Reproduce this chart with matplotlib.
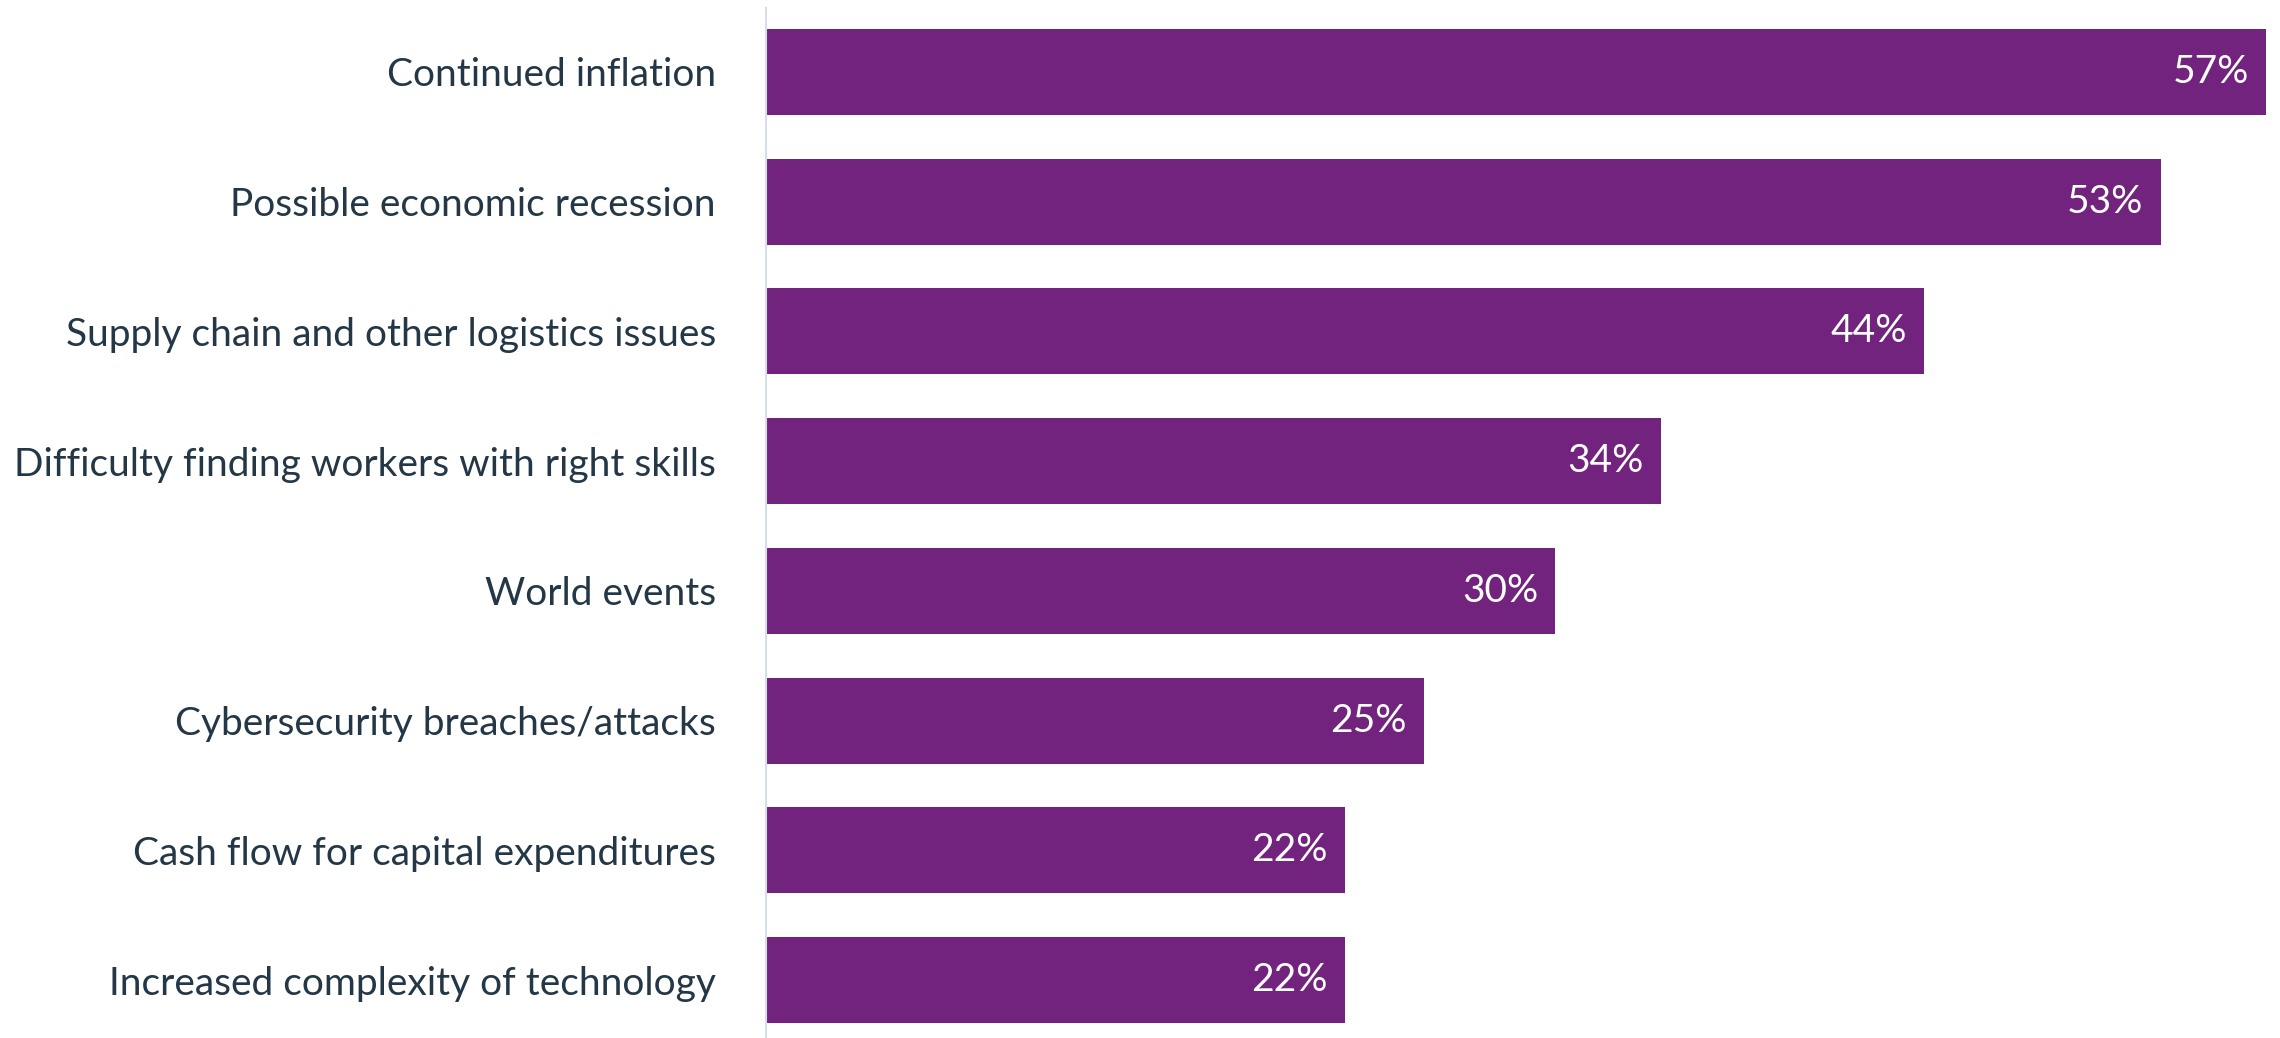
import matplotlib
matplotlib.use("Agg")
import matplotlib.pyplot as plt

categories = [
    "Continued inflation",
    "Possible economic recession",
    "Supply chain and other logistics issues",
    "Difficulty finding workers with right skills",
    "World events",
    "Cybersecurity breaches/attacks",
    "Cash flow for capital expenditures",
    "Increased complexity of technology",
]
values = [57, 53, 44, 34, 30, 25, 22, 22]

bar_color = "#72237d"
text_color = "#243746"
axis_color = "#d6dee8"

plt.rcParams["font.family"] = ["Lato", "DejaVu Sans"]

fig = plt.figure(figsize=(22.8, 10.38), dpi=100)
ax = fig.add_axes([766 / 2280, 0.0, (2266 - 766) / 2280, 1 - 8 / 1038])

pos = list(range(len(categories)))
ax.barh(pos, values, height=0.663, color=bar_color)

for y, v in zip(pos, values):
    ax.text(v - 0.65, y, f"{v}%", ha="right", va="center",
            color="white", fontsize=28)

ax.set_xlim(0, 57)
ax.set_ylim(7.447, -0.493)
ax.set_yticks(pos)
ax.set_yticklabels(categories, fontsize=28, color=text_color)
ax.tick_params(axis="y", length=0, pad=36)
ax.set_xticks([])

for side in ["top", "right", "bottom"]:
    ax.spines[side].set_visible(False)
ax.spines["left"].set_color(axis_color)
ax.spines["left"].set_linewidth(1.5)

fig.savefig("out.png", dpi=100)
